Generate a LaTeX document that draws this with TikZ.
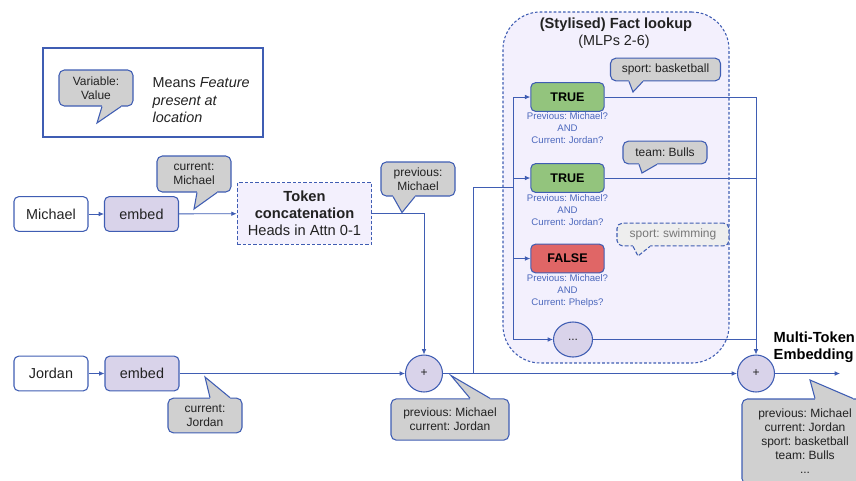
\documentclass[tikz,border=0pt]{standalone}
\usepackage{fontspec}
\setmainfont{Liberation Sans}
\usetikzlibrary{arrows.meta,shapes.geometric}
\frenchspacing
\definecolor{trait}{HTML}{3F5DB3}
\definecolor{encre}{HTML}{222222}
\definecolor{lavande}{HTML}{D9D3EA}
\definecolor{brume}{HTML}{F3F0FD}
\definecolor{gris}{HTML}{D0D0D0}
\definecolor{grisclair}{HTML}{EEEEEE}
\definecolor{grisfonce}{HTML}{777777}
\definecolor{vert}{HTML}{93C47D}
\definecolor{rouge}{HTML}{E06666}
\definecolor{question}{HTML}{4C68BD}
\newcommand{\taillenoeud}{\fontsize{10.8}{13.1}\selectfont}
\newcommand{\tailletitre}{\fontsize{11}{12.75}\selectfont}
\newcommand{\taillebulle}{\fontsize{9}{10.5}\selectfont}
\newcommand{\tailleverdict}{\fontsize{9.4}{11}\selectfont}
\newcommand{\taillemini}{\fontsize{7.2}{9}\selectfont}
\newcommand{\pile}[3]{\begin{tabular}{@{}c@{}}#1\\#2\\#3\end{tabular}}
\newcommand{\queuebas}[5][]{\fill[fill=gris,#1] ([xshift=#3,yshift=1.5pt]#2.south) -- ([xshift=#3]#2.south) -- (#5) -- ([xshift=#4]#2.south) -- ([xshift=#4,yshift=1.5pt]#2.south) -- cycle;
	\draw[queue,#1] ([xshift=#3]#2.south) -- (#5) -- ([xshift=#4]#2.south)}
\newcommand{\queuehaut}[5][]{\fill[fill=gris,#1] ([xshift=#3,yshift=-1.5pt]#2.north) -- ([xshift=#3]#2.north) -- (#5) -- ([xshift=#4]#2.north) -- ([xshift=#4,yshift=-1.5pt]#2.north) -- cycle;
	\draw[queue,#1] ([xshift=#3]#2.north) -- (#5) -- ([xshift=#4]#2.north)}

\begin{document}
\begin{tikzpicture}[x=0.75pt,y=-0.75pt,
	boite/.style={draw=trait,line width=0.8pt,fill=white,rounded corners=3.5pt,minimum width=55.5pt,minimum height=26pt,inner sep=0pt,font=\taillenoeud,text=encre},
	plonge/.style={boite,fill=lavande},
	verdict/.style={boite,minimum width=55pt,minimum height=21.5pt,font=\tailleverdict\bfseries,text=black},
	condition/.style={font=\taillemini,text=question,inner sep=0pt},
	bulle/.style={draw=trait,line width=0.8pt,fill=gris,rounded corners=4pt,inner sep=0pt,font=\taillebulle,text=encre,align=center},
	queue/.style={draw=trait,line width=0.8pt},
	somme/.style={circle,draw=trait,line width=0.8pt,fill=lavande,minimum size=27.75pt,inner sep=0pt,font=\taillebulle,text=encre},
	fil/.style={draw=trait,line width=0.6pt},
	fleche/.style={fil,-{Latex[length=4pt,width=3.5pt]}}]
	\useasboundingbox (0,0) rectangle (856,480);
	\clip (0,0) rectangle (856,480);

	\node[draw=trait,line width=0.8pt,minimum width=165pt,minimum height=66.75pt] (legende) at (153,92.5) {};
	\node[bulle,minimum width=55.5pt,minimum height=27pt] (bLegende) at (96,88) {Variable:\\Value};
	\queuebas{bLegende}{4.5pt}{18.75pt}{97,123};
	\node[anchor=west,align=left,font=\taillenoeud,text=encre] (sens) at (148,100.5) {Means \textit{Feature}\\\textit{present at}\\\textit{location}};

	\node[draw=trait,line width=0.8pt,dash pattern=on 2pt off 1.5pt,fill=brume,rounded corners=28pt,minimum width=169.5pt,minimum height=263.25pt] (faits) at (616,187.5) {};
	\node[font=\tailletitre\bfseries,text=encre] (titreFaits) at (616,25) {(Stylised) Fact lookup};
	\node[font=\taillenoeud,text=encre] (sousTitre) at (614,42) {(MLPs 2-6)};

	\node[boite] (michael) at (51,214) {Michael};
	\node[plonge] (embedM) at (141.5,214) {embed};
	\node[boite,fill=brume,dash pattern=on 2.5pt off 1.5pt,rounded corners=0pt,minimum width=101pt,minimum height=46pt,font=\tailletitre,align=center] (token) at (304.5,213.5) {\textbf{Token}\\\textbf{concatenation}\\Heads in Attn 0-1};
	\node[boite] (jordan) at (51,373.5) {Jordan};
	\node[plonge] (embedJ) at (142,373.5) {embed};
	\node[somme] (somme1) at (424,373.5) {+};
	\node[somme] (somme2) at (756,373.5) {+};
	\coordinate (sortie) at (840,373.5);
	\node[anchor=west,align=left,font=\tailletitre\bfseries,text=black] (multi) at (769,347) {Multi-Token\\Embedding};

	\node[verdict,fill=vert] (vrai1) at (567.5,97) {TRUE};
	\node[condition] (condVrai1) at (567.5,129.5) {\pile{Previous: Michael?}{AND}{Current: Jordan?}};
	\node[verdict,fill=vert] (vrai2) at (567.5,178) {TRUE};
	\node[condition] (condVrai2) at (567.5,211.5) {\pile{Previous: Michael?}{AND}{Current: Jordan?}};
	\node[verdict,fill=rouge] (faux) at (567.5,258.5) {FALSE};
	\node[condition] (condFaux) at (567.5,291) {\pile{Previous: Michael?}{AND}{Current: Phelps?}};
	\node[ellipse,draw=trait,line width=0.8pt,fill=lavande,minimum width=29.25pt,minimum height=26.25pt,inner sep=0pt,font=\taillebulle,text=encre] (points) at (573,339.5) {...};

	\draw[fleche] (michael) -- (embedM);
	\draw[fleche] (embedM) -- (token);
	\draw[fleche] (token) -| (somme1);
	\draw[fleche] (jordan) -- (embedJ);
	\draw[fleche] (embedJ) -- (somme1);
	\draw[fleche] (somme1) -- (somme2);
	\draw[fleche] (somme2) -- (sortie);

	\coordinate (fourche) at (473,373.5);
	\coordinate (entree) at (513,187);
	\coordinate (busHaut) at (513,97);
	\coordinate (busBas) at (513,339.5);
	\coordinate (collecte) at (756,97);
	\draw[fil] (fourche) |- (entree);
	\draw[fil] (busHaut) -- (busBas);
	\draw[fleche] (busHaut) -- (vrai1);
	\draw[fleche] (busHaut |- vrai2) -- (vrai2);
	\draw[fleche] (busHaut |- faux) -- (faux);
	\draw[fleche] (busBas) -- (points);
	\draw[fil] (vrai1) -- (collecte);
	\draw[fil] (vrai2) -- (collecte |- vrai2);
	\draw[fil] (points) -- (collecte |- points);
	\draw[fleche] (collecte) -- (somme2);

	\node[bulle,minimum width=55.5pt,minimum height=27pt] (bCurM) at (194,174) {current:\\Michael};
	\queuebas{bCurM}{2.25pt}{17.25pt}{194,209};
	\node[bulle,minimum width=55.5pt,minimum height=25.5pt] (bPrevM) at (418,179) {previous:\\Michael};
	\queuebas{bPrevM}{-18.75pt}{-2.25pt}{402,212.5};
	\node[bulle,minimum width=55.5pt,minimum height=26pt] (bCurJ) at (205,415.5) {current:\\Jordan};
	\queuehaut{bCurJ}{3.75pt}{18.75pt}{205,377};
	\node[bulle,minimum width=88.5pt,minimum height=31pt] (bPrevCur) at (450,419.5) {previous: Michael\\current: Jordan};
	\queuehaut{bPrevCur}{15pt}{30pt}{451,375.5};
	\node[bulle,minimum width=94.5pt,minimum height=63.75pt] (bFinal) at (805,441.5) {previous: Michael\\current: Jordan\\sport: basketball\\team: Bulls\\...};
	\queuehaut{bFinal}{7.5pt}{36pt}{810,380};
	\node[bulle,minimum width=82.5pt,minimum height=17pt] (bBasket) at (665.5,69.5) {sport: basketball};
	\queuebas{bBasket}{-27.4pt}{-16.9pt}{633,92};
	\node[bulle,minimum width=63pt,minimum height=17pt] (bBulls) at (665,152.5) {team: Bulls};
	\queuebas{bBulls}{-19.5pt}{-6pt}{642,173};
	\node[bulle,fill=grisclair,dash pattern=on 3pt off 1.5pt,text=grisfonce,minimum width=84pt,minimum height=17pt] (bSwim) at (673,234.5) {sport: swimming};
	\queuebas[{fill=grisclair,dash pattern=on 3pt off 1.5pt}]{bSwim}{-30pt}{-17.25pt}{638,256};
\end{tikzpicture}
\end{document}
